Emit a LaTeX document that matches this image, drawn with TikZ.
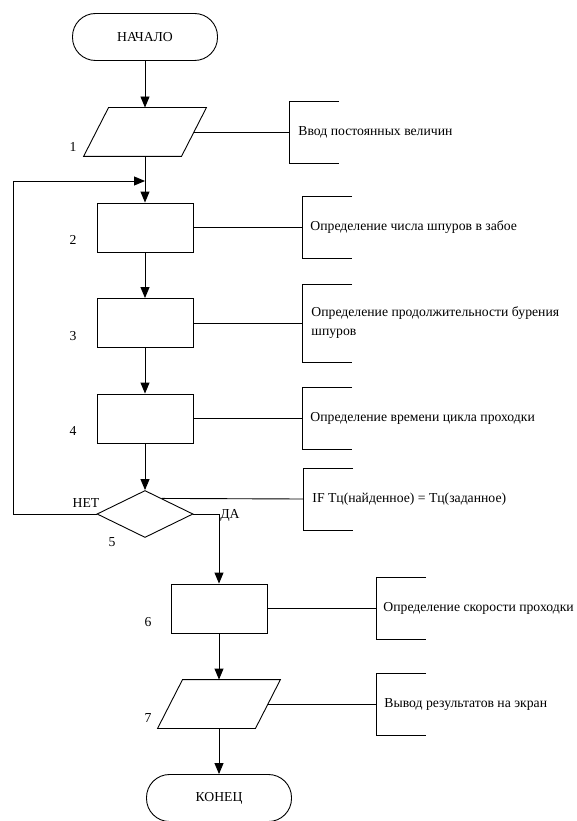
\documentclass[tikz,border=0pt]{standalone}
\usepackage{fontspec}
\setmainfont{Liberation Serif}
\usetikzlibrary{arrows.meta}
\usetikzlibrary{calc}
\usetikzlibrary{shapes.geometric}

\begin{document}
\begin{tikzpicture}[x=1pt, y=-1pt, line width=0.9pt,
    font=\fontsize{13.7}{19}\selectfont,
    term/.style={draw, rectangle, rounded corners=23pt, minimum width=145pt, minimum height=47pt, inner sep=0},
    io/.style={rectangle, minimum width=97pt, minimum height=48pt, inner sep=0},
    proc/.style={draw, rectangle, minimum width=96pt, minimum height=49pt, inner sep=0},
    cond/.style={draw, diamond, minimum width=96pt, minimum height=47pt, inner sep=0},
    arr/.style={-{Triangle[length=11pt, width=9pt]}},
    note/.style={anchor=west, align=left, inner sep=0}]
    % блок-схема: расчет скорости проходки
    \useasboundingbox (0,0) rectangle (576,821);
    \def\w{50}
    \def\s{12.5}

    \node[term] (start) at (145,37) {НАЧАЛО};
    \node[io] (in1) at (145,132) {};
    \node[proc] (b2) at (145,227.5) {};
    \node[proc] (b3) at (145,323) {};
    \node[proc] (b4) at (145,418.5) {};
    \node[cond] (d5) at (145,514) {};
    \node[proc] (b6) at (219,608.5) {};
    \node[io] (out7) at (219,704) {};
    \node[term] (stop) at (219,798) {КОНЕЦ};

    % параллелограммы ввода/вывода
    \foreach \n in {in1, out7}
        \draw ([xshift=\s pt]\n.north west) -- ([xshift=\s pt]\n.north east)
            -- ([xshift=-\s pt]\n.south east) -- ([xshift=-\s pt]\n.south west) -- cycle;

    \node (l1) at (73,147) {1};
    \node (l2) at (73,240) {2};
    \node (l3) at (73,336) {3};
    \node (l4) at (73,431) {4};
    \node (l5) at (112,542) {5};
    \node (l6) at (148,622) {6};
    \node (l7) at (148,718) {7};
    \node (no) at (86,503) {НЕТ};
    \node (yes) at (230,515) {ДА};

    \coordinate (join) at (145,181);
    \coordinate (loop) at (13,181);
    \draw[arr] (start.south) -- (in1.north);
    \draw[arr] (in1.south) -- (b2.north);
    \draw[arr] (b2.south) -- (b3.north);
    \draw[arr] (b3.south) -- (b4.north);
    \draw[arr] (b4.south) -- (d5.north);
    \draw[arr] (d5.west) -| (loop) -- (join);
    \draw[arr] (d5.east) -| (b6.north);
    \draw[arr] (b6.south) -- (out7.north);
    \draw[arr] (out7.south) -- (stop.north);

    % комментарии
    \coordinate (n1) at (289,132);
    \coordinate (n2) at (302,227.5);
    \coordinate (n3) at (302,323);
    \coordinate (n4) at (302,418.5);
    \coordinate (n5) at (303,499);
    \coordinate (n6) at (376,608.5);
    \coordinate (n7) at (376,704);
    \foreach \n/\h in {n1/31, n2/31, n3/39, n4/31, n5/31, n6/31, n7/31}
        \draw ($(\n)+(\w,-\h)$) -| ($(\n)+(0,\h)$) -- ++(\w,0);

    \draw (in1.east) -- (n1);
    \draw (b2.east) -- (n2);
    \draw (b3.east) -- (n3);
    \draw (b4.east) -- (n4);
    \draw ($(d5.north)!0.35!(d5.east)$) -- (n5);
    \draw (b6.east) -- (n6);
    \draw (out7.east) -- (n7);

    \node[note] (t1) at ($(n1)+(9,0)$) {Ввод постоянных величин};
    \node[note] (t2) at ($(n2)+(8,0)$) {Определение числа шпуров в забое};
    \node[note] (t3) at ($(n3)+(9,0)$) {Определение продолжительности бурения\\шпуров};
    \node[note] (t4) at ($(n4)+(8,0)$) {Определение времени цикла проходки};
    \node[note] (t5) at ($(n5)+(9,0)$) {IF Tц(найденное) = Tц(заданное)};
    \node[note] (t6) at ($(n6)+(7,0)$) {Определение скорости проходки};
    \node[note] (t7) at ($(n7)+(8,0)$) {Вывод результатов на экран};
\end{tikzpicture}
\end{document}
